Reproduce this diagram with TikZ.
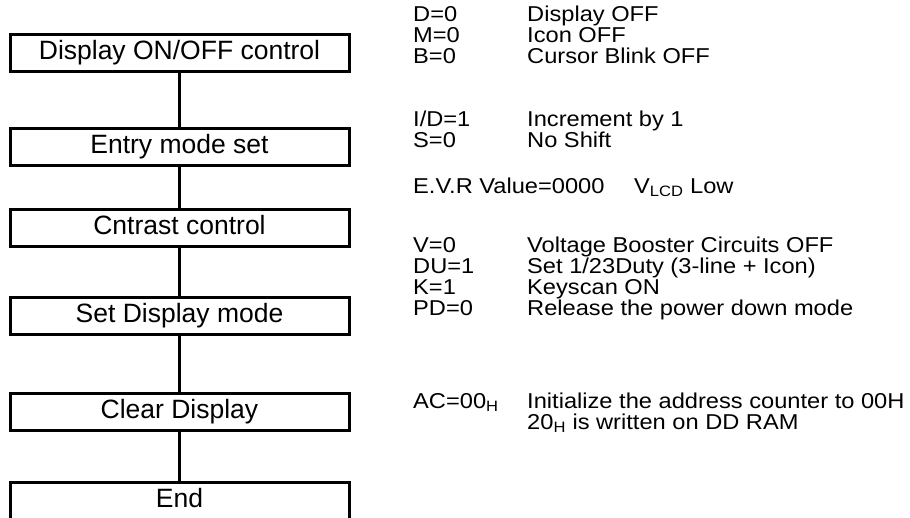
\documentclass[tikz,border=0pt]{standalone}
\usepackage{fontspec}
\setmainfont{Liberation Sans}
\newfontfamily\descfont[FakeStretch=1.1]{Liberation Sans}
\begin{document}
\begin{tikzpicture}[x=1pt,y=-1pt,
  stepbox/.style={draw, line width=3pt, minimum width=339pt, minimum height=37pt, inner sep=0pt,
    font=\fontsize{26.5}{30}\selectfont, text height=19pt, text depth=5.5pt},
  lbl/.style={anchor=base west, inner sep=0pt, font=\descfont\fontsize{21.5}{21}\selectfont},
  link/.style={line width=3pt}]
\path[use as bounding box, clip] (0,0) rectangle (910,517);
\fill[white] (0,0) rectangle (910,517);
% flow boxes
\node[stepbox] (b1) at (179.5,53) {Display ON/OFF control};
\node[stepbox] (b2) at (179.5,147) {Entry mode set};
\node[stepbox] (b3) at (179.5,228) {Cntrast control};
\node[stepbox] (b4) at (179.5,316) {Set Display mode};
\node[stepbox] (b5) at (179.5,412) {Clear Display};
\node[stepbox] (b6) at (179.5,501) {End};
\draw[link] (b1) -- (b2);
\draw[link] (b2) -- (b3);
\draw[link] (b3) -- (b4);
\draw[link] (b4) -- (b5);
\draw[link] (b5) -- (b6);
% descriptions
\node[lbl] (k1) at (413,21) {D=0};
\node[lbl] (v1) at (527,21) {Display OFF};
\node[lbl] (k2) at (413,42) {M=0};
\node[lbl] (v2) at (527,42) {Icon OFF};
\node[lbl] (k3) at (413,63) {B=0};
\node[lbl] (v3) at (527,63) {Cursor Blink OFF};
\node[lbl] (k4) at (413,126) {I/D=1};
\node[lbl] (v4) at (527,126) {Increment by 1};
\node[lbl] (k5) at (413,147) {S=0};
\node[lbl] (v5) at (527,147) {No Shift};
\node[lbl] (k6) at (413,193) {E.V.R Value=0000};
\node[lbl] (v6) at (634,193) {V\textsubscript{LCD} Low};
\node[lbl] (k7) at (413,252) {V=0};
\node[lbl] (v7) at (527,252) {Voltage Booster Circuits OFF};
\node[lbl] (k8) at (413,273) {DU=1};
\node[lbl] (v8) at (527,273) {Set 1/23Duty (3-line + Icon)};
\node[lbl] (k9) at (413,294) {K=1};
\node[lbl] (v9) at (527,294) {Keyscan ON};
\node[lbl] (k10) at (413,315) {PD=0};
\node[lbl] (v10) at (527,315) {Release the power down mode};
\node[lbl] (k11) at (413,408) {AC=00\textsubscript{H}};
\node[lbl] (v11) at (527,408) {Initialize the address counter to 00H};
\node[lbl] (v12) at (527,429) {20\textsubscript{H} is written on DD RAM};
\end{tikzpicture}
\end{document}
